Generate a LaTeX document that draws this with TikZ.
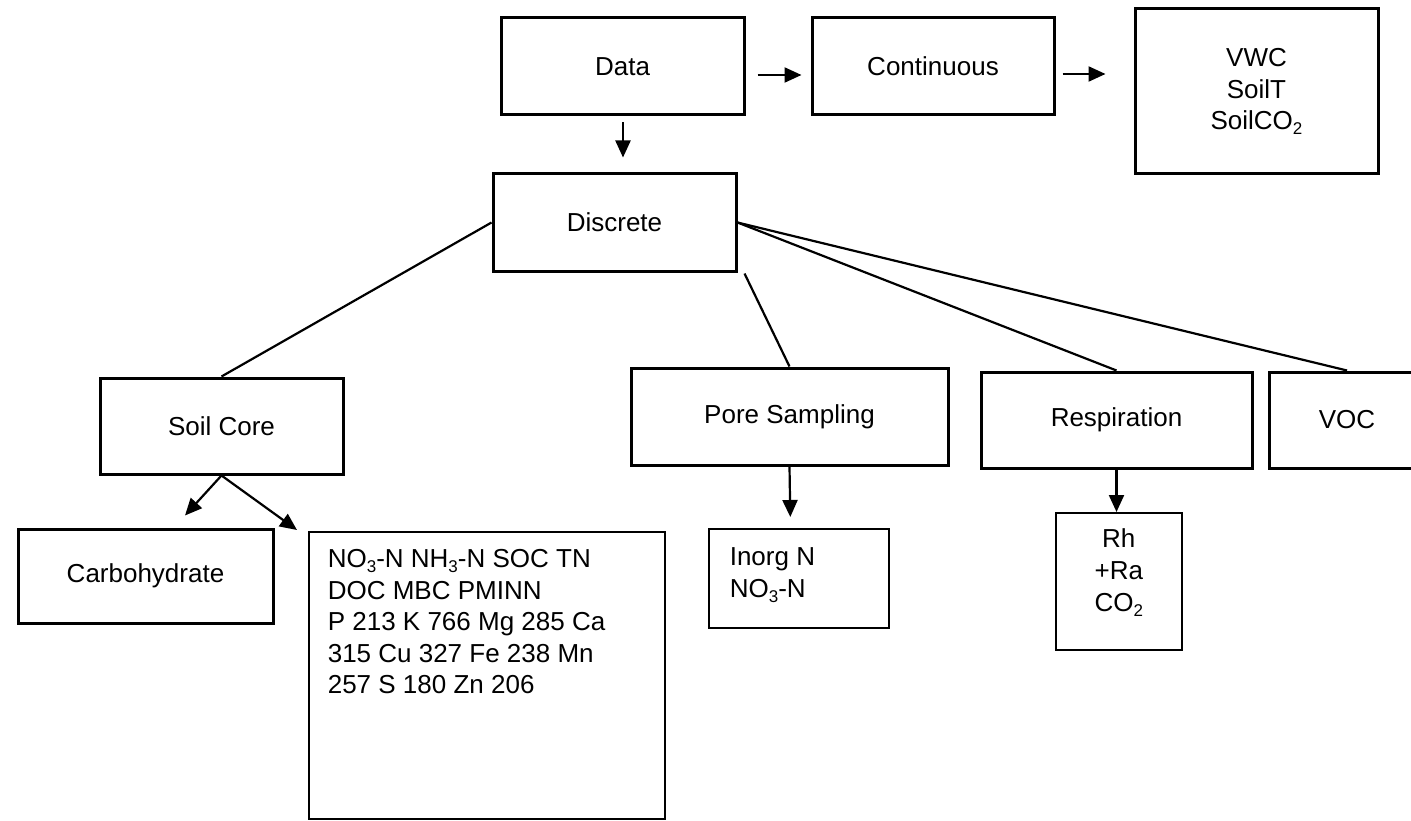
\documentclass[tikz,border=0pt]{standalone}
\usepackage{fontspec}
\setmainfont{Liberation Sans}
\usetikzlibrary{arrows.meta,calc}
\newcommand\mysubs[1]{\raisebox{-5pt}{\fontsize{17}{17}\selectfont #1}}
\begin{document}
\begin{tikzpicture}[x=1pt,y=-1pt,
  txt/.style={font=\fontsize{26}{31.6}\selectfont},
  box/.style={draw, line width=3pt, inner sep=0pt, txt, align=center},
  thinbox/.style={draw, line width=1.6pt, inner sep=0pt, txt},
  conn/.style={line width=2.2pt},
  arr/.style={conn, -{Triangle[length=17pt,width=15pt]}}]
\useasboundingbox (0,0) rectangle (1411,821);

\node[box, minimum width=243pt, minimum height=97pt] (data) at (622.5,66.5) {Data};
\node[box, minimum width=242pt, minimum height=97pt] (cont) at (933,66.5) {Continuous};
\node[box, minimum width=243pt, minimum height=165pt] (vwc) at (1256.5,91.5) {VWC\\SoilT\\SoilCO\mysubs{2}};
\node[box, minimum width=243pt, minimum height=97pt] (disc) at (614.5,222.5) {Discrete};
\node[box, minimum width=243pt, minimum height=96pt] (soil) at (221.5,426) {Soil Core};
\node[box, minimum width=317pt, minimum height=97pt] (pore) at (789.5,416.5) {Pore Sampling};
\node[box, minimum width=271pt, minimum height=96pt] (resp) at (1116.5,420) {Respiration};
\node[box, minimum width=156pt, minimum height=96pt] (voc) at (1347,420) {VOC};
\node[box, minimum width=255pt, minimum height=94pt] (carb) at (145.5,576) {Carbohydrate};

\node[thinbox, anchor=north west] (big) at (308,531)
  {\parbox[c][287pt][t]{356pt}{\leftskip=19pt\parindent=0pt\vspace*{13.5pt}%
   \strut NO\mysubs{3}-N NH\mysubs{3}-N SOC TN\\
   \strut DOC MBC PMINN\\
   \strut P 213 K 766 Mg 285 Ca\\
   \strut 315 Cu 327 Fe 238 Mn\\
   \strut 257 S 180 Zn 206}};
\node[thinbox, anchor=north west] (inorg) at (708,528)
  {\parbox[c][99pt][t]{180pt}{\leftskip=21pt\parindent=0pt\vspace*{15pt}%
   \strut Inorg N\\
   \strut NO\mysubs{3}-N}};
\node[thinbox, anchor=north west] (rh) at (1055,512)
  {\parbox[c][137pt][t]{126pt}{\centering\vspace*{13pt}%
   \strut Rh\\
   \strut +Ra\\
   \strut CO\mysubs{2}}};

\draw[arr] ($(data.east)+(12,8.5)$) -- ($(cont.west)+(-9,8.5)$);
\draw[arr] ($(cont.east)+(7,7.5)$) -- ($(vwc.west)+(-28,-17.5)$);
\draw[arr] ($(data.south)+(0.5,6)$) -- ($(disc.north)+(8.5,-15)$);

\draw[conn] (disc.west) -- (soil.north);
\draw[conn] (disc.east) -- (resp.north);
\draw[conn] (disc.east) -- (voc.north);
\coordinate (pstop) at ($(disc.south east)+(7,1)$);
\draw[conn] (pstop) -- (pore.north);

\draw[arr] (soil.south) -- ($(carb.north)+(39.5,-12)$);
\draw[arr] (soil.south) -- ($(big.north west)+(-11,-1)$);
\draw[arr] (pore.south) -- ($(inorg.north)+(-8.5,-11)$);
\draw[arr] (resp.south) -- (resp.south |- rh.north);
\end{tikzpicture}
\end{document}
